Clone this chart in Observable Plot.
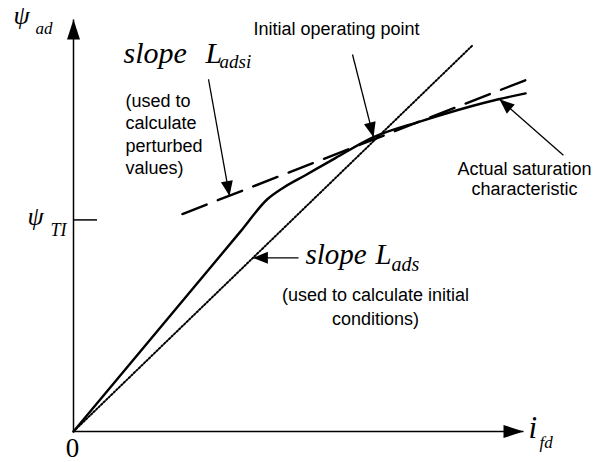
<!DOCTYPE html>
<html>
<head>
<meta charset="utf-8">
<script src="https://cdn.jsdelivr.net/npm/d3@7"></script>
<script src="https://cdn.jsdelivr.net/npm/@observablehq/plot@0.6"></script>
<style>
  html, body { margin: 0; padding: 0; background: #fff; }
</style>
</head>
<body>
<div id="chart"></div>
<script>
// Field current i_fd and d-axis flux linkage psi_ad, in per-unit of the operating point.
const saturationIfd = [0, 0.557, 0.647, 0.697, 0.773, 0.873, 1.0, 1.157, 1.233, 1.417, 1.507];
const saturationPsi = [0, 0.68, 0.79, 0.827, 0.871, 0.929, 1.0, 1.054, 1.078, 1.129, 1.149];

// Straight line through the origin and the operating point (slope L_ads)
const adsIfd = [0, 1.333];
const adsPsi = [0, 1.315];

// Tangent to the curve at the operating point (slope L_adsi)
const adsiIfd = [0.363, 1.54];
const adsiPsi = [0.739, 1.207];

const operatingPoint = [1.0, 1.0];
const psiTI = 0.719;

// Text
const sansNotes = [
  "(used to\ncalculate\nperturbed\nvalues)",
  "Initial operating point",
  "Actual saturation\ncharacteristic",
  "(used to calculate initial\nconditions)"
];
const slopeWords = ["slope", "L", "adsi", "ads"];
const axisSymbols = ["ψ", "ad", "TI", "i", "fd", "0"];

// ---- layout ----
const W = 593, H = 462;
const M = {top: 19, right: 70, bottom: 31, left: 73};
const xDomain = [0, 1.5], yDomain = [0, 1.4];
const X = Plot.scale({x: {domain: xDomain, range: [M.left, W - M.right]}});
const Y = Plot.scale({y: {domain: yDomain, range: [H - M.bottom, M.top]}});
const heading = (a, b) =>
  Math.atan2(Y.apply(b[1]) - Y.apply(a[1]), X.apply(b[0]) - X.apply(a[0])) * 180 / Math.PI;

// filled arrowhead with its tip at the origin, pointing along +x
const arrowhead = (len, half) => ({
  draw(ctx) { ctx.moveTo(0, 0); ctx.lineTo(-len, -half); ctx.lineTo(-len, half); ctx.closePath(); }
});

const zip = (xs, ys) => xs.map((x, i) => ({x, y: ys[i]}));
const curve = zip(saturationIfd, saturationPsi);
const adsLine = zip(adsIfd, adsPsi);
const adsiLine = zip(adsiIfd, adsiPsi);

const axes = [
  {from: [0, 0], to: [0, yDomain[1]]},
  {from: [0, 0], to: [xDomain[1], 0]}
];
const pointers = [
  {from: [0.45, 1.197], to: [0.52, 0.80]},          // to the tangent line
  {from: [0.93, 1.281], to: operatingPoint},        // to the operating point
  {from: [1.633, 0.939], to: [1.42, 1.129]},        // to the saturation curve
  {from: [0.75, 0.59], to: [0.598, 0.59]}           // to the straight line
];

const serif = "Liberation Serif, Times New Roman, serif";
const sans = "Liberation Sans, Arial, Helvetica, sans-serif";
const txt = (text, x, y, o) => Plot.text([text], {x: () => x, y: () => y, text: d => d, lineAnchor: "bottom", fill: "black", ...o});
const ital = {textAnchor: "start", fontFamily: serif, fontStyle: "italic"};

const chart = Plot.plot({
  width: W, height: H,
  marginTop: M.top, marginRight: M.right, marginBottom: M.bottom, marginLeft: M.left,
  x: {domain: xDomain, axis: null},
  y: {domain: yDomain, axis: null},
  style: {background: "white", overflow: "visible"},
  marks: [
    // axes
    Plot.link(axes, {x1: d => d.from[0], y1: d => d.from[1], x2: d => d.to[0], y2: d => d.to[1], stroke: "black", strokeWidth: 1.5}),
    Plot.dot(axes, {x: d => d.to[0], y: d => d.to[1], rotate: d => heading(d.from, d.to), symbol: arrowhead(20, 6.5), r: 5, fill: "black", stroke: "none"}),
    Plot.ruleY([psiTI], {x1: 0, x2: 0.08, stroke: "black", strokeWidth: 1.5}),

    // lines
    Plot.line(adsLine, {x: "x", y: "y", stroke: "black", strokeWidth: 2, strokeDasharray: "1.5,2"}),
    Plot.line(adsiLine, {x: "x", y: "y", stroke: "black", strokeWidth: 2.4, strokeDasharray: "26,12"}),
    Plot.line(curve, {x: "x", y: "y", curve: "monotone-x", stroke: "black", strokeWidth: 2.4, strokeLinejoin: "round"}),

    // pointers
    Plot.link(pointers, {x1: d => d.from[0], y1: d => d.from[1], x2: d => d.to[0], y2: d => d.to[1], stroke: "black", strokeWidth: 1.3}),
    Plot.dot(pointers, {x: d => d.to[0], y: d => d.to[1], rotate: d => heading(d.from, d.to), symbol: arrowhead(15, 6), r: 5, fill: "black", stroke: "none"}),

    // axis symbols
    txt(axisSymbols[0], 0, yDomain[1], {...ital, dx: -60, dy: 4, fontSize: 26}),
    txt(axisSymbols[1], 0, yDomain[1], {...ital, dx: -38, dy: 14, fontSize: 17}),
    txt(axisSymbols[0], 0, psiTI, {...ital, dx: -46, dy: 5, fontSize: 26}),
    txt(axisSymbols[2], 0, psiTI, {...ital, dx: -23, dy: 16, fontSize: 18}),
    txt(axisSymbols[3], xDomain[1], 0, {...ital, dx: 5, dy: 6, fontSize: 31}),
    txt(axisSymbols[4], xDomain[1], 0, {...ital, dx: 16, dy: 16, fontSize: 17}),
    txt(axisSymbols[5], 0, 0, {dx: -1, dy: 25, textAnchor: "middle", fontFamily: serif, fontSize: 27}),

    // slope labels
    txt(slopeWords[0], 0.1667, 1.2508, {...ital, fontSize: 30}),
    txt(slopeWords[1], 0.44, 1.2508, {...ital, fontSize: 30}),
    txt(slopeWords[2], 0.4867, 1.2339, {...ital, fontSize: 19}),
    txt(slopeWords[0], 0.7733, 0.5695, {...ital, fontSize: 29}),
    txt(slopeWords[1], 1.0067, 0.5695, {...ital, fontSize: 29}),
    txt(slopeWords[3], 1.06, 0.5458, {...ital, fontSize: 20}),

    // notes
    txt(sansNotes[0], 0.1733, 0.8746, {textAnchor: "start", fontFamily: sans, fontSize: 18, lineHeight: 1.25}),
    txt(sansNotes[1], 0.6, 1.349, {textAnchor: "start", fontFamily: sans, fontSize: 18}),
    txt(sansNotes[2], 1.5033, 0.8034, {textAnchor: "middle", fontFamily: sans, fontSize: 18, lineHeight: 1.12}),
    txt(sansNotes[3], 1.0067, 0.3627, {textAnchor: "middle", fontFamily: sans, fontSize: 18, lineHeight: 1.3})
  ]
});

document.getElementById("chart").append(chart);
</script>
</body>
</html>
